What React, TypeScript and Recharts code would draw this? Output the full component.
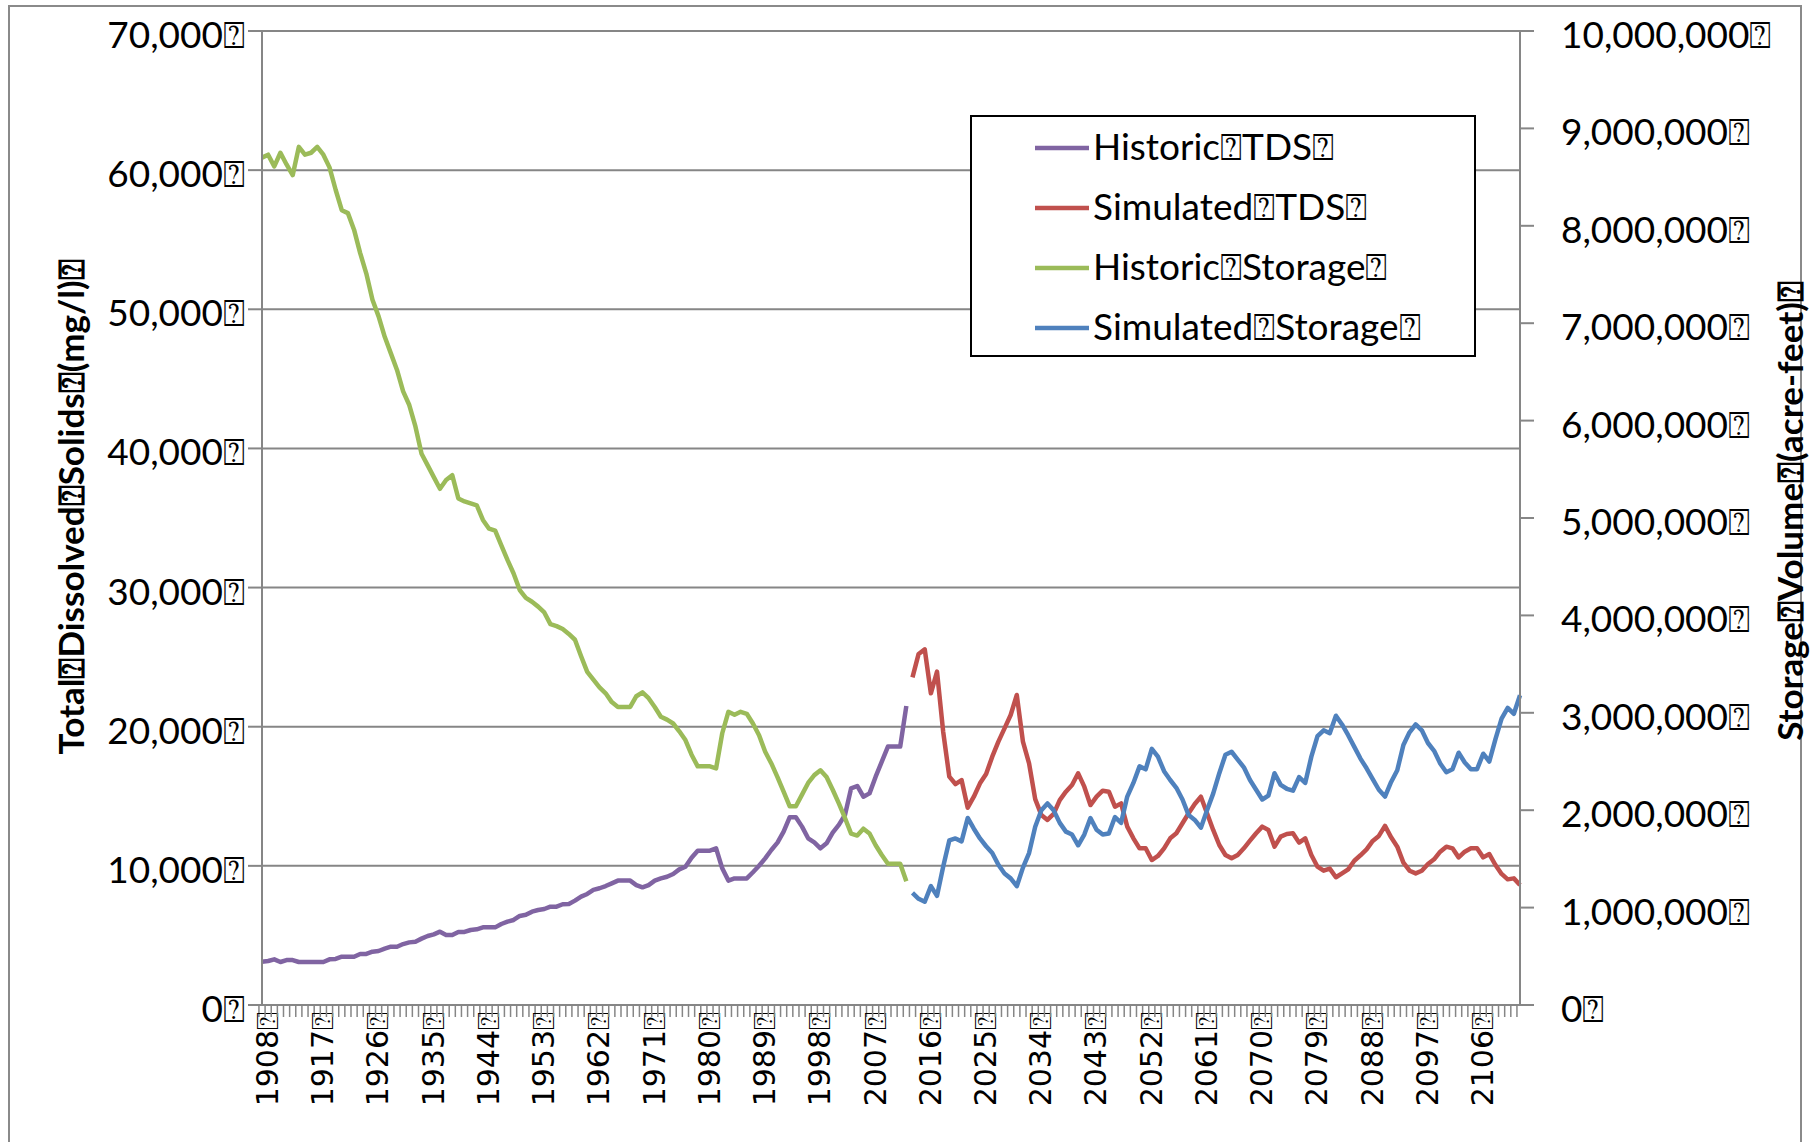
import React from 'react';
import { LineChart, Line, XAxis, YAxis, CartesianGrid, Legend } from 'recharts';

// ---------- DATA ----------
const firstYear = 1908;
const lastYear = 2113;
const simulationStartYear = 2014;

const years: string[] = [];
for (let y = firstYear; y <= lastYear; y++) years.push(String(y));

// Total dissolved solids (mg/l), 1908-2013
const historicTDS = [
  3110, 3160, 3280, 3090, 3230, 3230, 3090, 3090, 3090, 3090, 3090, 3280,
  3310, 3470, 3470, 3470, 3670, 3670, 3830, 3880, 4050, 4190,
  4190, 4380, 4500, 4550, 4770, 4960, 5080, 5270, 5030, 5030,
  5250, 5250, 5390, 5440, 5580, 5580, 5580, 5820, 5990, 6110,
  6400, 6480, 6710, 6830, 6900, 7070, 7070, 7240, 7260, 7500,
  7790, 7980, 8270, 8390, 8550, 8740, 8940, 8940, 8940, 8620,
  8460, 8620, 8940, 9100, 9220, 9420, 9750, 9940, 10590, 11090,
  11090, 11090, 11260, 9820, 8940, 9100, 9100, 9100, 9540, 10010,
  10540, 11140, 11670, 12460, 13500, 13490, 12820, 11980, 11690, 11260,
  11620, 12390, 12940, 13660, 15570, 15740, 14970, 15210, 16410, 17490,
  18570, 18570, 18570, 21490,
];

// Total dissolved solids (mg/l), 2014-2113
const simulatedTDS = [
  23550, 25230, 25560, 22400, 23960, 19650,
  16410, 15880, 16170, 14180, 14970, 15930, 16600, 17850, 18930, 19880,
  20840, 22280, 18930, 17370, 14800, 13660, 13300, 13730, 14730, 15330,
  15810, 16650, 15690, 14370, 14970, 15400, 15330, 14250, 14490, 12820,
  11980, 11260, 11260, 10420, 10710, 11260, 11980, 12340, 13060, 13780,
  14450, 14970, 13780, 12580, 11500, 10780, 10540, 10780, 11260, 11810,
  12340, 12820, 12580, 11380, 12100, 12290, 12340, 11670, 11980, 10780,
  9940, 9650, 9800, 9180, 9460, 9750, 10370, 10760, 11190, 11790,
  12150, 12870, 12050, 11380, 10230, 9650, 9460, 9650, 10130, 10470,
  11020, 11380, 11260, 10610, 11020, 11260, 11260, 10610, 10850, 10060,
  9420, 9030, 9100, 8620,
];

// Storage volume (acre-feet), 1908-2013
const historicStorage = [
  8700000, 8730000, 8610000, 8750000, 8630000, 8520000, 8810000, 8730000, 8750000, 8810000, 8730000, 8600000,
  8370000, 8160000, 8130000, 7960000, 7720000, 7510000, 7240000, 7070000, 6860000, 6690000,
  6520000, 6300000, 6160000, 5940000, 5660000, 5540000, 5420000, 5300000, 5390000, 5440000,
  5200000, 5170000, 5150000, 5130000, 4980000, 4890000, 4870000, 4720000, 4570000, 4430000,
  4260000, 4180000, 4140000, 4090000, 4030000, 3910000, 3890000, 3860000, 3810000, 3750000,
  3580000, 3420000, 3340000, 3260000, 3200000, 3110000, 3060000, 3060000, 3060000, 3170000,
  3210000, 3150000, 3060000, 2960000, 2930000, 2890000, 2810000, 2720000, 2570000, 2450000,
  2450000, 2450000, 2430000, 2790000, 3010000, 2980000, 3010000, 2990000, 2890000, 2770000,
  2600000, 2480000, 2340000, 2190000, 2040000, 2040000, 2160000, 2280000, 2360000, 2410000,
  2340000, 2210000, 2070000, 1920000, 1760000, 1740000, 1810000, 1760000, 1640000, 1540000,
  1450000, 1450000, 1450000, 1270000,
];

// Storage volume (acre-feet), 2014-2113
const simulatedStorage = [
  1150000, 1090000, 1060000, 1220000, 1120000, 1420000,
  1690000, 1710000, 1680000, 1920000, 1810000, 1710000, 1630000, 1560000, 1440000, 1350000,
  1300000, 1220000, 1410000, 1560000, 1830000, 2000000, 2070000, 2000000, 1870000, 1780000,
  1750000, 1640000, 1750000, 1920000, 1800000, 1750000, 1760000, 1930000, 1870000, 2140000,
  2280000, 2450000, 2420000, 2630000, 2550000, 2400000, 2310000, 2230000, 2110000, 1950000,
  1900000, 1820000, 2000000, 2170000, 2380000, 2570000, 2600000, 2520000, 2440000, 2310000,
  2210000, 2110000, 2150000, 2380000, 2260000, 2220000, 2200000, 2340000, 2280000, 2550000,
  2760000, 2820000, 2790000, 2970000, 2880000, 2770000, 2650000, 2530000, 2430000, 2320000,
  2210000, 2140000, 2290000, 2410000, 2670000, 2800000, 2880000, 2820000, 2690000, 2610000,
  2480000, 2390000, 2420000, 2590000, 2490000, 2420000, 2420000, 2580000, 2500000, 2730000,
  2940000, 3050000, 2990000, 3180000,
];

const yearTickLabels = [
  '1908', '1917', '1926', '1935', '1944', '1953', '1962', '1971', '1980', '1989', '1998',
  '2007', '2016', '2025', '2034', '2043', '2052', '2061', '2070', '2079', '2088', '2097', '2106',
];
const tdsTicks = [0, 10000, 20000, 30000, 40000, 50000, 60000, 70000];
const storageTicks = [0, 1000000, 2000000, 3000000, 4000000, 5000000, 6000000, 7000000, 8000000, 9000000, 10000000];

const legendOrder = ['historicTDS', 'simulatedTDS', 'historicStorage', 'simulatedStorage'];
const seriesNames = {
  historicTDS: 'Historic\u2370TDS\u2370',
  simulatedTDS: 'Simulated\u2370TDS\u2370',
  historicStorage: 'Historic\u2370Storage\u2370',
  simulatedStorage: 'Simulated\u2370Storage\u2370',
};
const colors = {
  historicTDS: '#8064A2',
  simulatedTDS: '#C0504D',
  historicStorage: '#9BBB59',
  simulatedStorage: '#4F81BD',
};

const simOffset = simulationStartYear - firstYear;
const data = years.map((year, i) => ({
  year,
  historicTDS: i < historicTDS.length ? historicTDS[i] : null,
  simulatedTDS: i >= simOffset ? simulatedTDS[i - simOffset] : null,
  historicStorage: i < historicStorage.length ? historicStorage[i] : null,
  simulatedStorage: i >= simOffset ? simulatedStorage[i - simOffset] : null,
}));

// ---------- STYLE ----------
const BOX = '\u2370';
const GRAY = '#868686';
const TICK_FONT = 'Lato, "Open Sans", sans-serif';
const TICK_SIZE = 37;
const LINE_W = 4.5;
const PLOT_W = 1258;
const fmt = (v: number) => v.toLocaleString('en-US');

function XTick(props: any) {
  const { x, y, payload } = props;
  const half = PLOT_W / years.length / 2;
  const show = yearTickLabels.includes(String(payload.value));
  return (
    <g>
      <line x1={x - half} x2={x - half} y1={y} y2={y + 12} stroke={GRAY} strokeWidth={1.5} />
      {show && (
        <text
          transform={`translate(${x + 16},${y + 7}) rotate(-90)`}
          textAnchor="end"
          fontFamily='"DejaVu Sans", sans-serif'
          fontSize={30}
          fill="#000"
        >
          {payload.value + BOX}
        </text>
      )}
    </g>
  );
}

function LeftTick(props: any) {
  const { x, y, payload } = props;
  return (
    <text x={x} y={y + 17} textAnchor="end" fontFamily={TICK_FONT} fontSize={TICK_SIZE} fill="#000">
      {fmt(payload.value) + BOX}
    </text>
  );
}

function RightTick(props: any) {
  const { x, y, payload } = props;
  return (
    <text x={x} y={y + 17} textAnchor="start" fontFamily={TICK_FONT} fontSize={TICK_SIZE} fill="#000">
      {fmt(payload.value) + BOX}
    </text>
  );
}

function LegendBox(props: any) {
  const { payload } = props;
  const items = ((payload || []) as any[])
    .slice()
    .sort((a, b) => legendOrder.indexOf(a.dataKey) - legendOrder.indexOf(b.dataKey));
  return (
    <svg width={506} height={242} style={{ display: 'block' }}>
      <rect x={1} y={1} width={504} height={240} fill="#fff" stroke="#000" strokeWidth={2} />
      {items.map((item, i) => {
        const cy = 33 + i * 60;
        return (
          <g key={i}>
            <line x1={65} x2={119} y1={cy} y2={cy} stroke={item.color} strokeWidth={LINE_W} />
            <text x={123} y={cy + 12} fontFamily={TICK_FONT} fontSize={TICK_SIZE} fill="#000">
              {item.value}
            </text>
          </g>
        );
      })}
    </svg>
  );
}

export default function App() {
  return (
    <div
      style={{
        position: 'absolute',
        left: 0,
        top: 0,
        width: 1820,
        height: 1142,
        overflow: 'hidden',
        background: '#fff',
      }}
    >
      <div
        style={{
          position: 'absolute',
          left: 8,
          top: 5,
          width: 1790,
          height: 1300,
          border: '2px solid #8a8a8a',
        }}
      />
      <div style={{ position: 'absolute', left: 0, top: 0 }}>
        <LineChart width={1820} height={1142} data={data} margin={{ top: 31, right: 0, bottom: 0, left: 0 }}>
          <CartesianGrid yAxisId="left" vertical={false} stroke={GRAY} strokeWidth={2} />
          <XAxis
            dataKey="year"
            interval={0}
            height={137}
            tickSize={0}
            tickMargin={0}
            tickLine={false}
            tick={<XTick />}
            axisLine={{ stroke: GRAY, strokeWidth: 2 }}
          />
          <YAxis
            yAxisId="left"
            domain={[0, 70000]}
            ticks={tdsTicks}
            interval={0}
            width={262}
            tickSize={14}
            tickMargin={3}
            tick={<LeftTick />}
            tickLine={{ stroke: GRAY, strokeWidth: 2 }}
            axisLine={{ stroke: GRAY, strokeWidth: 2 }}
            label={() => (
              <text
                transform="translate(84,507) rotate(-90)"
                textAnchor="middle"
                fontFamily={TICK_FONT}
                fontWeight={700}
                fontSize={35}
                fill="#000"
              >
                {'Total' + BOX + 'Dissolved' + BOX + 'Solids' + BOX + '(mg/l)' + BOX}
              </text>
            )}
          />
          <YAxis
            yAxisId="right"
            orientation="right"
            domain={[0, 10000000]}
            ticks={storageTicks}
            interval={0}
            width={300}
            tickSize={14}
            tickMargin={27}
            tick={<RightTick />}
            tickLine={{ stroke: GRAY, strokeWidth: 2 }}
            axisLine={{ stroke: GRAY, strokeWidth: 2 }}
            label={() => (
              <text
                transform="translate(1803,511) rotate(-90)"
                textAnchor="middle"
                fontFamily={TICK_FONT}
                fontWeight={700}
                fontSize={35}
                fill="#000"
              >
                {'Storage' + BOX + 'Volume' + BOX + '(acre-feet)' + BOX}
              </text>
            )}
          />
          <Legend
            layout="horizontal"
            verticalAlign="middle"
            align="center"
            width={506}
            height={242}
            wrapperStyle={{ left: 970, top: 115, width: 506, height: 242 }}
            content={<LegendBox />}
          />
          <Line
            yAxisId="left"
            dataKey="historicTDS"
            name={seriesNames.historicTDS}
            stroke={colors.historicTDS}
            strokeWidth={LINE_W}
            strokeLinejoin="round"
            dot={false}
            activeDot={false}
            isAnimationActive={false}
          />
          <Line
            yAxisId="left"
            dataKey="simulatedTDS"
            name={seriesNames.simulatedTDS}
            stroke={colors.simulatedTDS}
            strokeWidth={LINE_W}
            strokeLinejoin="round"
            dot={false}
            activeDot={false}
            isAnimationActive={false}
          />
          <Line
            yAxisId="right"
            dataKey="historicStorage"
            name={seriesNames.historicStorage}
            stroke={colors.historicStorage}
            strokeWidth={LINE_W}
            strokeLinejoin="round"
            dot={false}
            activeDot={false}
            isAnimationActive={false}
          />
          <Line
            yAxisId="right"
            dataKey="simulatedStorage"
            name={seriesNames.simulatedStorage}
            stroke={colors.simulatedStorage}
            strokeWidth={LINE_W}
            strokeLinejoin="round"
            dot={false}
            activeDot={false}
            isAnimationActive={false}
          />
        </LineChart>
      </div>
    </div>
  );
}
